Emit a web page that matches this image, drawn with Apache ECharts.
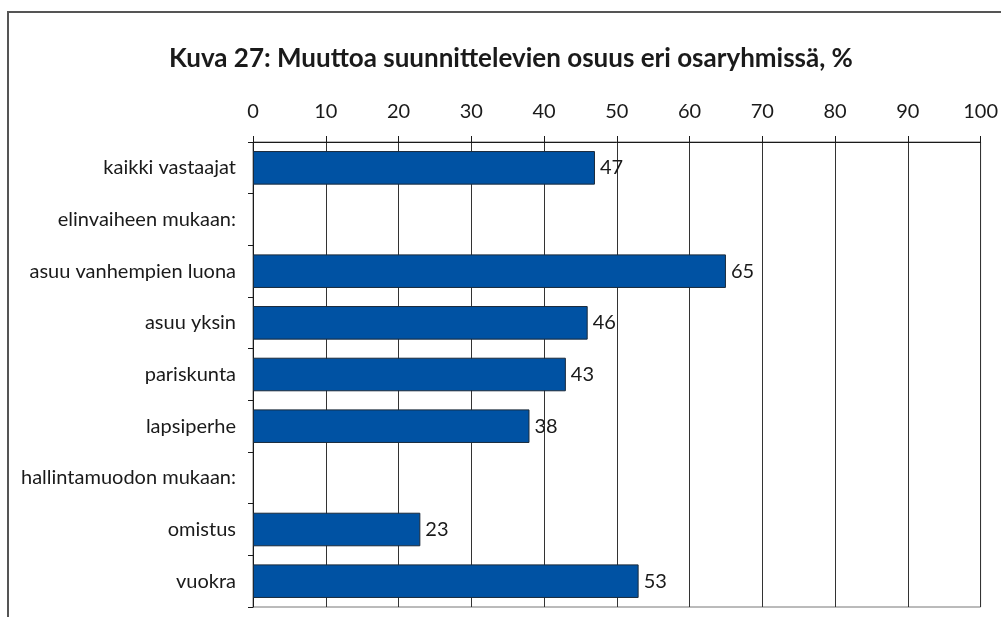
<!DOCTYPE html>
<html>
<head>
<meta charset="utf-8">
<script src="https://cdn.jsdelivr.net/npm/echarts@6/dist/echarts.min.js"></script>
<style>
  html, body { margin: 0; padding: 0; background: #fff; }
  #chart { width: 1001px; height: 617px; }
</style>
</head>
<body>
<div id="chart"></div>
<script>
// kategoriat ylhäältä alas
var categories = [
  "kaikki vastaajat",
  "elinvaiheen mukaan:",
  "asuu vanhempien luona",
  "asuu yksin",
  "pariskunta",
  "lapsiperhe",
  "hallintamuodon mukaan:",
  "omistus",
  "vuokra"
];
// otsikkorivit ilman arvoa
var values = [47, null, 65, 46, 43, 38, null, 23, 53];
var xTicks = [0, 10, 20, 30, 40, 50, 60, 70, 80, 90, 100];

var chart = echarts.init(document.getElementById("chart"));
var font = "Lato, 'Open Sans', sans-serif";

var option = {
  animation: false,
  backgroundColor: "#fff",
  title: {
    text: "Kuva 27: Muuttoa suunnittelevien osuus eri osaryhmissä, %",
    left: 506,
    textAlign: "center",
    top: 41,
    textStyle: {
      fontFamily: font,
      fontSize: 26,
      fontWeight: "bold",
      color: "#1a1a1a"
    }
  },
  graphic: [
    {
      type: "rect",
      shape: { x: 8, y: 12, width: 1100, height: 700 },
      style: { fill: "none", stroke: "#555", lineWidth: 2 },
      silent: true
    }
  ],
  grid: {
    left: 253,
    top: 142,
    width: 731,
    height: 465,
    show: true,
    borderColor: "#777",
    borderWidth: 1
  },
  xAxis: {
    type: "value",
    position: "top",
    min: xTicks[0],
    max: xTicks[xTicks.length - 1],
    interval: 10,
    axisLine: { show: true, lineStyle: { color: "#1a1a1a", width: 1 } },
    axisTick: { show: true, length: 6, lineStyle: { color: "#1a1a1a" } },
    axisLabel: {
      margin: 20,
      fontFamily: font,
      fontSize: 20,
      color: "#1a1a1a"
    },
    splitLine: { show: true, lineStyle: { color: "#333", width: 1 } }
  },
  yAxis: {
    type: "category",
    inverse: true,
    data: categories,
    axisLine: { show: true, lineStyle: { color: "#1a1a1a", width: 1 } },
    axisTick: { show: true, length: 5, lineStyle: { color: "#1a1a1a" } },
    axisLabel: {
      margin: 17,
      fontFamily: font,
      fontSize: 20,
      color: "#1a1a1a"
    }
  },
  series: [
    {
      type: "bar",
      data: values,
      barCategoryGap: "35%",
      itemStyle: {
        color: "#0052A3",
        borderColor: "#1a2a3a",
        borderWidth: 1
      },
      label: {
        show: true,
        position: "right",
        distance: 5,
        fontFamily: font,
        fontSize: 20,
        color: "#1a1a1a"
      }
    }
  ]
};
chart.setOption(option);
</script>
</body>
</html>
